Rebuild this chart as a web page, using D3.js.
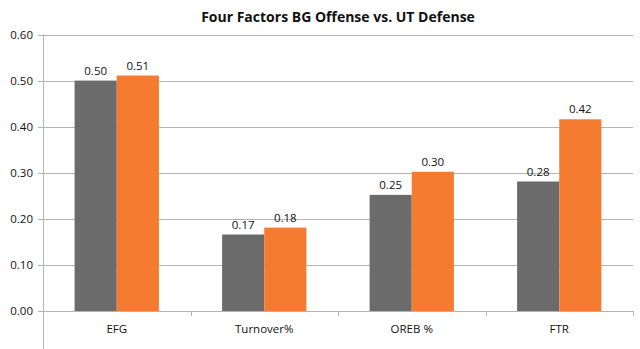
<!DOCTYPE html>
<html><head><meta charset="utf-8">
<script src="https://cdn.jsdelivr.net/npm/d3@7"></script>
<style>body{margin:0;background:#fff}svg{display:block}</style>
</head><body>
<script>
const categories = ["EFG", "Turnover%", "OREB %", "FTR"];
const bgOffense = [0.50, 0.166, 0.252, 0.281];
const utDefense = [0.511, 0.181, 0.302, 0.416];
const yTicks = [0, 0.1, 0.2, 0.3, 0.4, 0.5, 0.6];
const title = "Four Factors BG Offense vs. UT Defense";
const colors = ["#6b6b6b", "#f47b2f"];

const W = 640, H = 349;
const m = {left: 43, right: 7, top: 34.5, bottom: 38};
const svg = d3.select("body").append("svg").attr("width", W).attr("height", H);
const font = "'Open Sans', 'Liberation Sans', sans-serif";

const x = d3.scaleBand().domain(categories).range([m.left, W - m.right]).paddingInner(0).paddingOuter(0);
const x1 = d3.scaleBand().domain([0, 1]).range([0, x.bandwidth()]).paddingInner(0).paddingOuter(0.75);
const y = d3.scaleLinear().domain([0, 0.6]).range([H - m.bottom, m.top]);

// gridlines
svg.append("g").selectAll("line").data(yTicks).join("line")
  .attr("x1", m.left - 5).attr("x2", W - m.right)
  .attr("y1", d => Math.round(y(d)) + 0.5).attr("y2", d => Math.round(y(d)) + 0.5)
  .attr("stroke", "#b3b3b3").attr("stroke-width", 1);

// y axis labels
svg.append("g").selectAll("text").data(yTicks).join("text")
  .attr("x", m.left - 10).attr("y", d => y(d)).attr("dy", "0.35em")
  .attr("text-anchor", "end").attr("font-family", font).attr("font-size", 11.5).attr("fill", "#111")
  .text(d => d3.format(".2f")(d));

// y axis line
svg.append("line").attr("x1", m.left + 0.5).attr("x2", m.left + 0.5)
  .attr("y1", y(0.6)).attr("y2", H).attr("stroke", "#b3b3b3");

// category ticks
const bounds = categories.slice(1).map(c => x(c)).concat([W - m.right]);
svg.append("g").selectAll("line").data(bounds).join("line")
  .attr("x1", d => Math.round(d) + 0.5).attr("x2", d => Math.round(d) + 0.5)
  .attr("y1", y(0)).attr("y2", y(0) + 5).attr("stroke", "#b3b3b3");

// bars
const groups = svg.append("g").selectAll("g").data(categories).join("g")
  .attr("transform", c => `translate(${x(c)},0)`);
groups.each(function(c, i) {
  const vals = [bgOffense[i], utDefense[i]];
  const g = d3.select(this);
  g.selectAll("rect").data(vals).join("rect")
    .attr("x", (d, j) => x1(j)).attr("width", x1.bandwidth())
    .attr("y", d => y(d)).attr("height", d => y(0) - y(d))
    .attr("fill", (d, j) => colors[j]);
  g.selectAll("text").data(vals).join("text")
    .attr("x", (d, j) => x1(j) + x1.bandwidth() / 2).attr("y", d => y(d) - 6)
    .attr("text-anchor", "middle").attr("font-family", font).attr("font-size", 11.5).attr("fill", "#111")
    .text(d => d3.format(".2f")(d));
});

// category labels
svg.append("g").selectAll("text").data(categories).join("text")
  .attr("x", c => x(c) + x.bandwidth() / 2).attr("y", y(0) + 22)
  .attr("text-anchor", "middle").attr("font-family", font).attr("font-size", 11.5).attr("fill", "#111")
  .text(c => c);

// title
svg.append("text").attr("x", 338).attr("y", 22).attr("text-anchor", "middle")
  .attr("font-family", font).attr("font-weight", "bold").attr("font-size", 14).attr("fill", "#111")
  .text(title);
</script>
</body></html>
